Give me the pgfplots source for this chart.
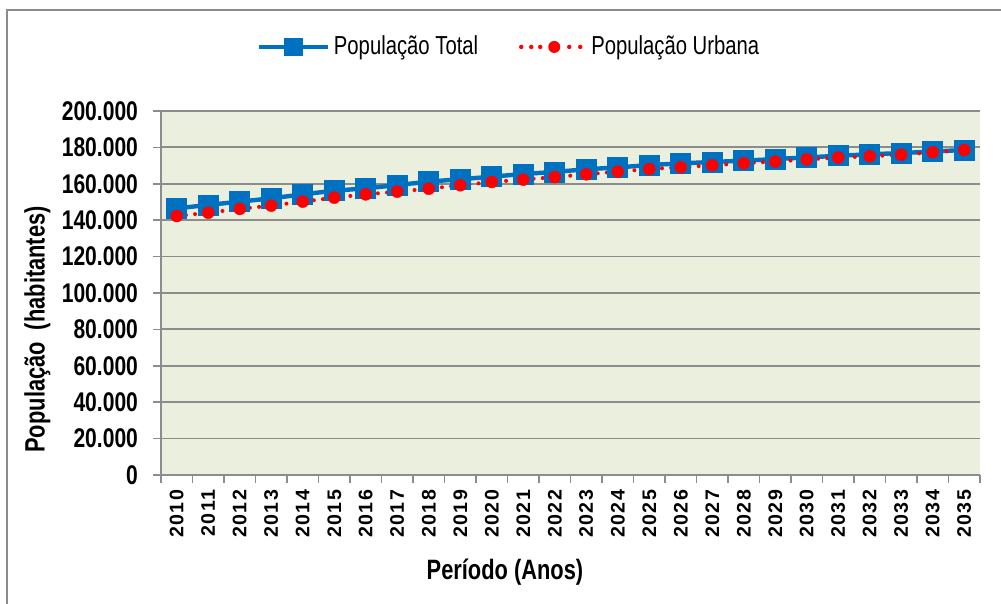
\documentclass[border=0pt]{standalone}
\usepackage{fontspec}
\setmainfont[FakeStretch=0.78]{Liberation Sans}
\newfontfamily\widefont[LetterSpace=6]{Liberation Sans}
\usepackage{pgfplots}
\pgfplotsset{compat=1.18}
\definecolor{bg}{HTML}{EBEFDE}
\definecolor{tblue}{HTML}{0070C0}
\definecolor{grd}{HTML}{8C8C8C}
\begin{document}
\begin{tikzpicture}
\useasboundingbox (0pt,0pt) rectangle (500.5pt,302pt);
\draw[grd, line width=0.8pt] (3.5pt,-2pt) -- (3.5pt,297pt) -- (503pt,297pt);
\begin{axis}[
  at={(80.5pt,64.5pt)}, anchor=south west,
  scale only axis, width=409.5pt, height=182pt,
  xmin=2009.5, xmax=2035.5, ymin=0, ymax=200000,
  scaled y ticks=false,
  axis background/.style={fill=bg},
  axis x line*=bottom, axis y line*=left,
  axis line style={grd, line width=0.9pt, -},
  ytick={0,20000,40000,60000,80000,100000,120000,140000,160000,180000,200000},
  yticklabels={0,20.000,40.000,60.000,80.000,100.000,120.000,140.000,160.000,180.000,200.000},
  ymajorgrids, grid style={grd, line width=0.9pt},
  tick align=outside, major tick length=4pt, minor tick length=4pt,
  major y tick style={grd, line width=0.8pt},
  xtick={2010,2011,2012,2013,2014,2015,2016,2017,2018,2019,2020,2021,2022,2023,2024,2025,2026,2027,2028,2029,2030,2031,2032,2033,2034,2035},
  xticklabels={2010,2011,2012,2013,2014,2015,2016,2017,2018,2019,2020,2021,2022,2023,2024,2025,2026,2027,2028,2029,2030,2031,2032,2033,2034,2035},
  minor xtick={2009.5,2010.5,...,2035.5},
  major x tick style={draw=none},
  minor x tick style={grd, line width=0.8pt},
  xticklabel style={rotate=90, anchor=east, font=\widefont\bfseries\fontsize{9.8}{10}\selectfont},
  yticklabel style={xshift=-4pt, font=\bfseries\fontsize{13.5}{14}\selectfont},
  xlabel={Período (Anos)},
  ylabel={População\ \ (habitantes)},
  xlabel style={at={(axis description cs:0.42,-0.266)}, anchor=center, font=\bfseries\fontsize{14}{16}\selectfont},
  ylabel style={at={(axis description cs:-0.151,0.40)}, anchor=center, font=\bfseries\fontsize{14}{16}\selectfont},
  legend columns=2,
  legend style={at={(axis description cs:0.426,1.176)}, anchor=center, draw=none, fill=none,
    font=\fontsize{13}{15}\selectfont,
    /tikz/every even column/.append style={column sep=18pt}},
]
\addplot[tblue, line width=2.2pt, mark=square*, mark size=5pt, mark options={fill=tblue, draw=tblue, line width=0.4pt},
  legend image code/.code={\draw[tblue, line width=2.2pt] (0pt,0pt) -- (34.5pt,0pt);
    \fill[tblue] (13.8pt,-3.6pt) rectangle (20.8pt,3.6pt);}]
table {
x y
2010 146500
2011 148400
2012 150200
2013 152000
2014 154200
2015 156200
2016 157500
2017 159300
2018 161200
2019 162500
2020 163900
2021 165400
2022 166500
2023 168000
2024 169000
2025 170300
2026 171200
2027 172000
2028 172700
2029 173600
2030 174500
2031 175400
2032 176200
2033 176900
2034 177700
2035 178600
};
\addlegendentry{População Total}
\addplot[red, line width=2pt, line cap=round, dash pattern=on 0pt off 4.6pt, mark=*, mark size=3pt, mark options={solid, fill=red, draw=red, line width=0.2pt},
  legend image code/.code={
    \path[draw=none] (0pt,-1pt) rectangle (34.5pt,1pt);
    \path[fill=red, draw=none, solid] (1.5pt,0pt) circle (1.1pt);
    \path[fill=red, draw=none, solid] (6.5pt,0pt) circle (1.1pt);
    \path[fill=red, draw=none, solid] (11pt,0pt) circle (1.1pt);
    \path[fill=red, draw=none, solid] (18pt,0pt) circle (3pt);
    \path[fill=red, draw=none, solid] (25.5pt,0pt) circle (1.1pt);
    \path[fill=red, draw=none, solid] (31pt,0pt) circle (1.1pt);}]
table {
x y
2010 142300
2011 144100
2012 146200
2013 148000
2014 150200
2015 152400
2016 154200
2017 155700
2018 157300
2019 159200
2020 161000
2021 162300
2022 163700
2023 165200
2024 166700
2025 168100
2026 169100
2027 170200
2028 171300
2029 172200
2030 173400
2031 174400
2032 175100
2033 176000
2034 177300
2035 178600
};
\addlegendentry{População Urbana}
\end{axis}
\end{tikzpicture}
\end{document}
